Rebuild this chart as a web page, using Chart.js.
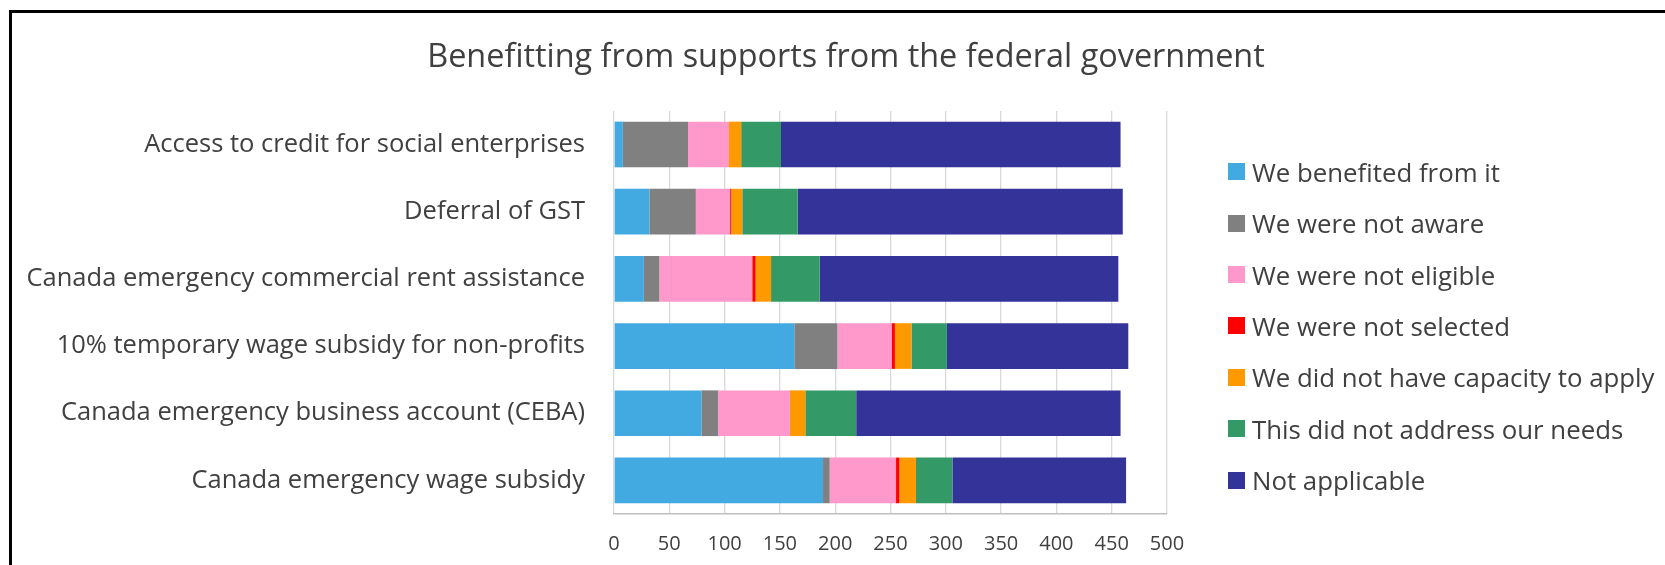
<!DOCTYPE html>
<html><head><meta charset="utf-8">
<script src="https://cdn.jsdelivr.net/npm/chart.js@4.4.0/dist/chart.umd.min.js"></script>
<style>
body { margin: 0; background: #fff; overflow: hidden; }
#frame { position: absolute; left: 9px; top: 10px; width: 1720px; height: 620px; border: 3px solid #000; box-sizing: border-box; }
#wrap { position: absolute; left: 0; top: 0; width: 1665px; height: 565px; }
#legend { position: absolute; left: 1228px; top: 0; font-family: 'Open Sans'; font-size: 25.8px; color: #404040; }
.item { position: absolute; left: 0; white-space: nowrap; display: flex; align-items: center; height: 30px; }
.box { width: 17px; height: 17px; margin-right: 7px; }
</style>
</head><body>
<div id="frame"></div>
<div id="wrap"><canvas id="BarChart" width="1665" height="565"></canvas></div>
<div id="legend"></div>
<script>
const categories = [
    'Access to credit for social enterprises',
    'Deferral of GST',
    'Canada emergency commercial rent assistance',
    '10% temporary wage subsidy for non-profits',
    'Canada emergency business account (CEBA)',
    'Canada emergency wage subsidy'
];
const seriesNames = [
    'We benefited from it',
    'We were not aware',
    'We were not eligible',
    'We were not selected',
    'We did not have capacity to apply',
    'This did not address our needs',
    'Not applicable'
];
const benefited    = [8, 32, 27, 163, 79, 189];
const notAware     = [59, 42, 14, 39, 15, 6];
const notEligible  = [37, 31, 84, 49, 65, 60];
const notSelected  = [0, 1, 3, 3, 0, 3];
const noCapacity   = [11, 10, 14, 15, 14, 15];
const notAddressed = [36, 50, 44, 32, 46, 33];
const notApplicable = [307, 294, 270, 164, 239, 157];
const xTicks = [0, 50, 100, 150, 200, 250, 300, 350, 400, 450, 500];

const colors = ['#42A9E1', '#808080', '#FF99CC', '#FF0000', '#FF9900', '#339966', '#333399'];
const values = [benefited, notAware, notEligible, notSelected, noCapacity, notAddressed, notApplicable];

const textColor = '#404040';

const data = {
    labels: categories,
    datasets: seriesNames.map((name, i) => ({
        label: name,
        data: values[i],
        backgroundColor: colors[i],
        borderWidth: 0,
        barPercentage: 0.68,
        categoryPercentage: 1
    }))
};

// title is centred on the whole frame, not just the plot
const centreTitle = {
    id: 'centreTitle',
    afterLayout(chart) {
        const t = chart.titleBlock;
        if (t) { t.left = 0; t.right = 1692; t.width = 1692; }
    }
};

const config = {
    type: 'bar',
    data,
    plugins: [centreTitle],
    options: {
        indexAxis: 'y',
        responsive: false,
        animation: false,
        layout: { padding: { left: 0, right: 498, top: 0, bottom: 0 } },
        scales: {
            x: {
                stacked: true,
                min: 0,
                max: 500,
                afterBuildTicks: scale => { scale.ticks = xTicks.map(v => ({ value: v })); },
                afterFit: scale => { scale.height = 51; },
                ticks: {
                    color: textColor,
                    font: { family: 'Open Sans', size: 20 },
                    padding: 18
                },
                grid: { color: '#d9d9d9', lineWidth: 1.3, drawTicks: false },
                border: { color: '#bfbfbf', width: 1.5 }
            },
            y: {
                stacked: true,
                afterFit: scale => { scale.width = 614; },
                ticks: {
                    color: textColor,
                    font: { family: 'Open Sans', size: 25.5 },
                    padding: 29
                },
                grid: { display: false, drawTicks: false },
                border: { display: false }
            }
        },
        plugins: {
            title: {
                display: true,
                text: 'Benefitting from supports from the federal government',
                color: textColor,
                font: { family: 'Open Sans', size: 32.4, weight: 'normal' },
                padding: { top: 38, bottom: 34 }
            },
            legend: { display: false },
            tooltip: { enabled: false }
        }
    }
};

function buildLegend() {
    const legend = document.getElementById('legend');
    seriesNames.forEach((name, i) => {
        const item = document.createElement('div');
        item.className = 'item';
        item.style.top = (171.7 + i * 51.4 - 15) + 'px';
        const box = document.createElement('div');
        box.className = 'box';
        box.style.background = colors[i];
        const label = document.createElement('span');
        label.textContent = name;
        item.appendChild(box);
        item.appendChild(label);
        legend.appendChild(item);
    });
}

document.fonts.load('20px "Open Sans"').then(() => {
    buildLegend();
    new Chart(document.getElementById('BarChart'), config);
});
</script>
</body></html>
